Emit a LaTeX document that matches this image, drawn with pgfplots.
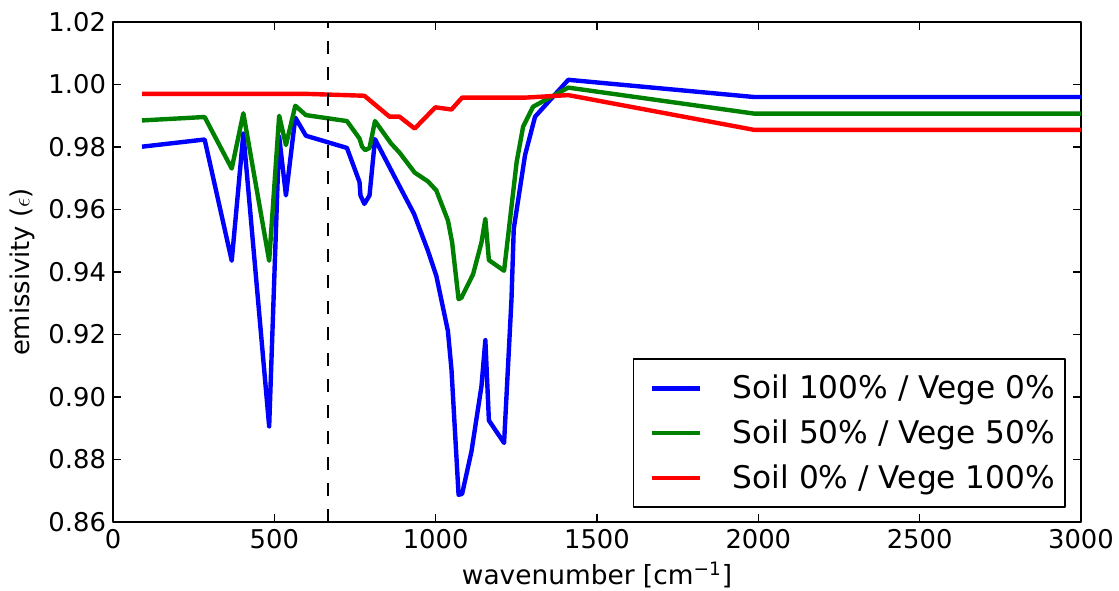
\documentclass[border=0pt]{standalone}
\usepackage{pgfplots}
\pgfplotsset{compat=1.18}
\usepackage{fontspec}
\setmainfont{DejaVu Sans}
\definecolor{mplgreen}{RGB}{0,128,0}
\begin{document}
\begin{tikzpicture}
\begin{axis}[
  scale only axis,
  width=484pt, height=250pt,
  xmin=0, xmax=3000, ymin=0.86, ymax=1.02,
  xtick={0,500,...,3000},
  ytick={0.86,0.88,0.90,0.92,0.94,0.96,0.98,1.00,1.02},
  minor tick num=0,
  tick align=inside,
  major tick length=4pt,
  axis line style={line width=1pt},
  every tick/.style={black, line width=0.8pt},
  /pgf/number format/assume math mode=true,
  /pgf/number format/1000 sep={},
  yticklabel style={/pgf/number format/fixed, /pgf/number format/fixed zerofill, /pgf/number format/precision=2},
  ticklabel style={font=\fontsize{12.9}{14}\selectfont},
  xlabel={wavenumber [cm\textsuperscript{−1}]},
  ylabel={emissivity ($\epsilon$)},
  xlabel style={font=\fontsize{13.2}{15}\selectfont},
  ylabel style={font=\fontsize{12.9}{15}\selectfont},
  legend cell align=left,
  legend style={at={(rel axis cs:1,0)}, anchor=south east, xshift=-7.5pt, yshift=7pt,
    draw=black, line width=0.8pt, font=\fontsize{15.6}{18}\selectfont,
    inner xsep=3pt, inner ysep=6pt, row sep=5pt,
    /tikz/every odd column/.append style={column sep=13.5pt}},
  legend image code/.code={\path (-5pt,0pt); \draw[#1] (0pt,0pt) -- (24pt,0pt);},
  line join=round,
]
\addplot[blue, line width=2.2pt] coordinates {
(90,0.9801) (284,0.9824) (368,0.9436) (404,0.9843) (484,0.8906) (515,0.9833)
(536,0.9645) (565,0.9894) (598,0.9836) (725,0.9797) (764,0.9688) (767,0.9645)
(779,0.9618) (795,0.9645) (812,0.9825) (873,0.9704) (933,0.9586) (976,0.9468)
(1002,0.9388) (1038,0.9211) (1049,0.9088) (1071,0.8687) (1082,0.8690) (1111,0.8826)
(1142,0.9035) (1154,0.9182) (1165,0.8925) (1212,0.8853) (1235,0.9313) (1242,0.9538)
(1277,0.9774) (1308,0.9897) (1411,1.0015) (1986,0.9960) (3000,0.9960)};
\addlegendentry{Soil 100\% / Vege 0\%}
\addplot[mplgreen, line width=2.2pt] coordinates {
(90,0.9885) (284,0.9896) (368,0.9731) (404,0.9908) (484,0.9436) (515,0.9900)
(536,0.9806) (565,0.9932) (598,0.9902) (725,0.9883) (764,0.9827) (772,0.9801)
(782,0.9790) (795,0.9797) (812,0.9883) (862,0.9811) (888,0.9782) (935,0.9718)
(976,0.9690) (1002,0.9661) (1038,0.9565) (1051,0.9495) (1071,0.9313) (1080,0.9318)
(1116,0.9393) (1142,0.9495) (1154,0.9570) (1165,0.9438) (1212,0.9404) (1251,0.9752)
(1271,0.9865) (1302,0.9929) (1411,0.9990) (1986,0.9907) (3000,0.9907)};
\addlegendentry{Soil 50\% / Vege 50\%}
\addplot[red, line width=2.2pt] coordinates {
(90,0.9970) (600,0.9970) (779,0.9964) (857,0.9897) (888,0.9897) (935,0.9859)
(999,0.9927) (1049,0.9920) (1082,0.9958) (1277,0.9958) (1411,0.9966) (1986,0.9855)
(3000,0.9855)};
\addlegendentry{Soil 0\% / Vege 100\%}
\addplot[black, line width=1.2pt, dash pattern=on 6.5pt off 6.5pt, forget plot] coordinates {(667,0.86) (667,1.02)};
\end{axis}
\pgfresetboundingbox
\path[use as bounding box] ([xshift=-56.5pt,yshift=-34pt]current axis.south west) rectangle ([xshift=19pt,yshift=11pt]current axis.north east);
\end{tikzpicture}
\end{document}
